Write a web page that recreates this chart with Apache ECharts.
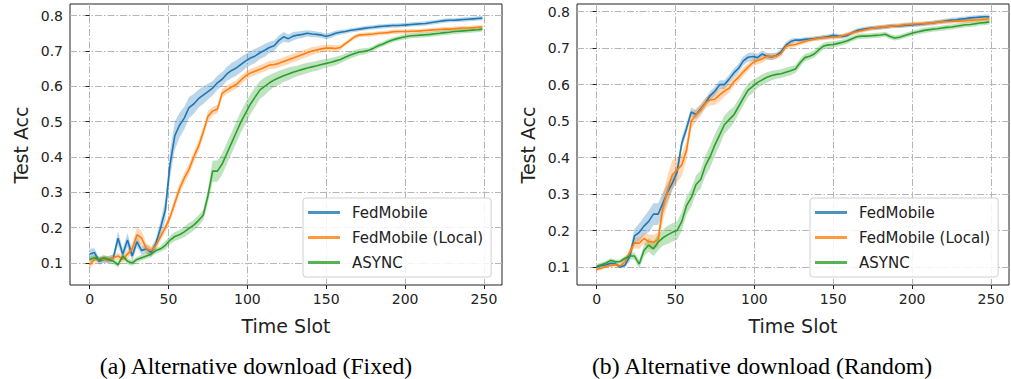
<!DOCTYPE html>
<html><head><meta charset="utf-8">
<script src="https://cdn.jsdelivr.net/npm/echarts@6/dist/echarts.min.js"></script>
<style>html,body{margin:0;padding:0;background:#fff}#c{width:1011px;height:379px}</style>
</head><body><div id="c"></div>
<script>
// ---- data ----
const slots = [0,3,6,9,12,15,18,21,24,27,30,33,36,39,42,45,48,51,54,57,60,63,66,69,72,75,78,81,84,87,90,93,96,99,102,105,108,111,114,117,120,123,126,129,132,135,138,141,144,147,150,153,156,159,162,165,168,171,174,177,180,183,186,189,192,195,198,201,204,207,210,213,216,219,222,225,228,231,234,237,240,243,246,249];
const seriesNames = ['FedMobile', 'FedMobile (Local)', 'ASYNC'];
const xTicks = [0, 50, 100, 150, 200, 250];
const yTicks = [0.1, 0.2, 0.3, 0.4, 0.5, 0.6, 0.7, 0.8];
const captions = ['(a) Alternative download (Fixed)', '(b) Alternative download (Random)'];

// (a) Fixed
const fixedFedMobile = [0.125,0.13,0.105,0.11,0.11,0.115,0.17,0.125,0.165,0.12,
 0.16,0.135,0.14,0.13,0.155,0.2,0.25,0.38,0.46,0.49,
 0.51,0.54,0.55,0.565,0.575,0.585,0.595,0.61,0.62,0.635,
 0.645,0.652,0.662,0.672,0.68,0.686,0.695,0.702,0.71,0.715,
 0.73,0.74,0.735,0.742,0.745,0.747,0.75,0.748,0.747,0.745,
 0.741,0.745,0.75,0.753,0.755,0.758,0.76,0.762,0.764,0.766,
 0.767,0.769,0.77,0.771,0.772,0.772,0.773,0.774,0.775,0.776,
 0.777,0.778,0.78,0.782,0.784,0.786,0.787,0.787,0.788,0.789,
 0.79,0.791,0.792,0.793];
const fixedLocal = [0.095,0.11,0.11,0.11,0.11,0.115,0.12,0.11,0.125,0.14,
 0.18,0.17,0.14,0.135,0.15,0.175,0.2,0.23,0.27,0.31,
 0.34,0.365,0.4,0.43,0.47,0.515,0.53,0.535,0.58,0.59,
 0.598,0.605,0.618,0.63,0.638,0.643,0.648,0.654,0.66,0.662,
 0.665,0.67,0.675,0.68,0.685,0.69,0.695,0.7,0.703,0.706,
 0.708,0.708,0.707,0.71,0.72,0.73,0.74,0.745,0.746,0.747,
 0.748,0.75,0.751,0.752,0.754,0.755,0.755,0.755,0.756,0.756,
 0.757,0.758,0.759,0.76,0.761,0.762,0.762,0.763,0.764,0.765,
 0.765,0.766,0.767,0.768];
const fixedAsync = [0.11,0.115,0.11,0.115,0.11,0.105,0.095,0.12,0.105,0.1,
 0.11,0.115,0.12,0.125,0.135,0.14,0.15,0.165,0.175,0.18,
 0.188,0.198,0.207,0.22,0.235,0.29,0.36,0.36,0.38,0.41,
 0.44,0.47,0.5,0.525,0.55,0.57,0.59,0.6,0.61,0.618,
 0.624,0.63,0.635,0.64,0.644,0.648,0.652,0.655,0.658,0.662,
 0.665,0.668,0.672,0.676,0.682,0.688,0.693,0.697,0.699,0.702,
 0.708,0.715,0.72,0.726,0.731,0.735,0.738,0.741,0.743,0.744,
 0.745,0.746,0.747,0.749,0.75,0.752,0.753,0.755,0.756,0.757,
 0.758,0.759,0.76,0.762];
// half-width of the shaded band, in thousandths of accuracy
const fixedFedMobileBand = [15,12,10,10,10,10,20,15,20,15, 15,12,12,12,15,20,30,38,40,35,
 32,30,28,25,25,22,20,20,20,20, 22,22,22,20,20,20,18,18,16,15,
 14,14,12,12,10,10,9,9,8,8, 8,8,7,7,6,6,6,6,6,6,
 6,6,6,6,6,6,6,6,6,6, 6,6,6,6,6,6,6,6,6,6, 6,6,6,6];
const fixedLocalBand = [12,10,8,8,8,8,10,10,12,15, 20,20,15,12,12,12,12,12,15,15,
 15,15,15,15,15,15,12,12,12,12, 12,12,12,12,12,12,12,12,12,12,
 12,12,12,12,12,12,11,11,10,10, 10,10,9,8,6,6,6,6,6,6,
 6,6,6,6,6,6,6,6,6,6, 6,6,6,6,6,6,6,6,6,6, 6,6,6,6];
const fixedAsyncBand = [8,8,8,8,8,8,8,8,8,8, 8,8,8,8,8,8,12,12,13,13,
 15,15,15,15,15,20,30,30,30,30, 30,30,30,30,28,28,25,25,22,20,
 20,18,18,16,15,15,15,14,14,13, 12,12,12,11,10,10,10,9,9,7,
 7,7,7,7,7,7,7,7,7,7, 7,7,7,7,7,7,7,7,7,7, 7,7,7,7];

// (b) Random
const randomFedMobile = [0.1,0.104,0.106,0.11,0.108,0.1,0.105,0.13,0.185,0.195,
 0.212,0.225,0.245,0.245,0.275,0.305,0.33,0.36,0.44,0.48,
 0.525,0.518,0.533,0.55,0.57,0.582,0.6,0.6,0.615,0.632,
 0.645,0.665,0.675,0.677,0.674,0.684,0.678,0.676,0.68,0.69,
 0.708,0.718,0.722,0.722,0.724,0.725,0.726,0.728,0.73,0.732,
 0.735,0.733,0.732,0.735,0.742,0.748,0.751,0.753,0.755,0.756,
 0.757,0.758,0.76,0.761,0.761,0.762,0.763,0.764,0.765,0.766,
 0.768,0.769,0.771,0.773,0.775,0.777,0.778,0.78,0.781,0.783,
 0.784,0.785,0.786,0.786];
const randomLocal = [0.093,0.097,0.102,0.104,0.106,0.103,0.115,0.14,0.166,0.165,
 0.178,0.17,0.168,0.175,0.262,0.31,0.353,0.366,0.38,0.42,
 0.5,0.517,0.53,0.55,0.558,0.56,0.572,0.582,0.59,0.608,
 0.62,0.635,0.648,0.66,0.666,0.67,0.678,0.677,0.678,0.685,
 0.705,0.708,0.71,0.714,0.718,0.722,0.725,0.727,0.728,0.729,
 0.73,0.731,0.734,0.738,0.742,0.745,0.748,0.751,0.754,0.756,
 0.757,0.759,0.76,0.761,0.762,0.764,0.765,0.766,0.767,0.767,
 0.768,0.769,0.771,0.772,0.773,0.773,0.774,0.774,0.775,0.776,
 0.777,0.778,0.779,0.78];
const randomAsync = [0.102,0.106,0.111,0.118,0.114,0.115,0.124,0.13,0.13,0.108,
 0.145,0.16,0.15,0.168,0.18,0.188,0.195,0.2,0.225,0.268,
 0.29,0.326,0.34,0.378,0.403,0.435,0.462,0.49,0.504,0.517,
 0.54,0.563,0.585,0.595,0.606,0.613,0.62,0.625,0.628,0.63,
 0.634,0.638,0.643,0.66,0.674,0.678,0.684,0.696,0.706,0.709,
 0.71,0.713,0.716,0.72,0.726,0.731,0.733,0.733,0.734,0.735,
 0.736,0.738,0.732,0.728,0.73,0.734,0.738,0.742,0.745,0.748,
 0.75,0.752,0.753,0.755,0.757,0.758,0.76,0.762,0.764,0.765,
 0.767,0.769,0.77,0.772];
const randomFedMobileBand = [4,4,4,4,4,4,6,15,20,25, 25,30,30,30,30,25,20,20,15,15,
 12,12,12,12,12,12,12,12,12,12, 12,12,12,12,10,10,9,9,8,8,
 8,8,6,6,6,6,6,6,6,6, 6,6,6,6,6,6,6,6,6,6,
 6,6,6,6,6,6,6,6,6,6, 6,6,6,6,6,6,6,6,6,6, 6,6,6,6];
const randomLocalBand = [5,5,5,5,5,5,8,12,15,15, 15,20,20,20,35,40,40,35,30,25,
 20,18,16,15,15,16,18,15,12,12, 12,12,10,10,10,10,9,9,8,8,
 8,8,6,6,6,6,6,6,6,6, 6,6,6,6,6,6,6,6,6,6,
 6,6,6,6,6,6,6,6,6,6, 6,6,6,6,6,6,6,6,6,6, 6,6,6,6];
const randomAsyncBand = [6,6,6,6,6,6,6,8,10,12, 15,18,20,22,22,25,25,25,25,25,
 25,25,25,28,30,30,28,25,25,22, 20,20,18,18,15,15,14,13,12,12,
 12,12,11,11,10,10,10,10,9,9, 8,8,8,8,7,7,7,7,7,7,
 7,7,7,7,7,7,7,7,7,7, 7,7,7,7,7,7,7,7,7,7, 7,7,7,7];

// ---- styling ----
const colors = ['#1f77b4', '#ff7f0e', '#2ca02c'];
const bandColors = ['rgba(31,119,180,0.3)', 'rgba(255,127,14,0.3)', 'rgba(44,160,44,0.3)'];
const panels = [
  {means: [fixedFedMobile, fixedLocal, fixedAsync], bands: [fixedFedMobileBand, fixedLocalBand, fixedAsyncBand],
   left: 70, yMin: 0.0377, yMax: 0.833},
  {means: [randomFedMobile, randomLocal, randomAsync], bands: [randomFedMobileBand, randomLocalBand, randomAsyncBand],
   left: 577, yMin: 0.0506, yMax: 0.821}
];
const TXT = '#222';
const FONT = '"DejaVu Sans", sans-serif';

const grids = [], xAxes = [], yAxes = [], series = [], legends = [], graphics = [];
panels.forEach((p, g) => {
  grids.push({left: p.left, top: 4, width: 432, height: 281, show: true,
    borderColor: '#222', borderWidth: 1, backgroundColor: 'transparent', containLabel: false});
  xAxes.push({type: 'value', gridIndex: g, min: -12.45, max: 261.45,
    axisLine: {show: false},
    axisTick: {show: true, customValues: xTicks, length: 4, lineStyle: {color: TXT}},
    axisLabel: {customValues: xTicks, fontSize: 14, color: TXT, margin: 7, fontFamily: FONT},
    splitLine: {show: true, lineStyle: {color: '#b5b5b5', width: 1, type: [7, 2, 1.5, 2]}}});
  yAxes.push({type: 'value', gridIndex: g, min: p.yMin, max: p.yMax,
    axisLine: {show: false},
    axisTick: {show: true, customValues: yTicks, length: 4, lineStyle: {color: TXT}},
    axisLabel: {customValues: yTicks, fontSize: 14, color: TXT, margin: 7, fontFamily: FONT,
      formatter: v => v.toFixed(1)},
    splitLine: {show: true, lineStyle: {color: '#b5b5b5', width: 1, type: [7, 2, 1.5, 2]}}});
  // bands
  p.means.forEach((m, k) => {
    const half = p.bands[k];
    const data = slots.map((s, i) => [s, m[i] - half[i] / 1000, m[i] + half[i] / 1000]);
    series.push({
      type: 'custom', name: seriesNames[k] + ' band', xAxisIndex: g, yAxisIndex: g,
      silent: true, z: 1, data: data, encode: {x: 0, y: [1, 2]},
      renderItem: function (params, api) {
        if (params.dataIndex !== 0) return null;
        const up = [], lo = [];
        for (let i = 0; i < data.length; i++) {
          up.push(api.coord([api.value(0, i), api.value(2, i)]));
          lo.push(api.coord([api.value(0, i), api.value(1, i)]));
        }
        return {type: 'polygon', shape: {points: up.concat(lo.reverse())},
          style: {fill: bandColors[k], stroke: null}};
      }
    });
  });
  // mean lines
  p.means.forEach((m, k) => {
    series.push({
      type: 'line', name: seriesNames[k], xAxisIndex: g, yAxisIndex: g, z: 3,
      data: slots.map((s, i) => [s, m[i]]),
      showSymbol: false, symbol: 'none', color: colors[k],
      itemStyle: {color: colors[k]},
      lineStyle: {color: colors[k], width: 1.6}
    });
  });
  legends.push({
    data: seriesNames.map(n => ({name: n, itemStyle: {opacity: 0.8}})),
    orient: 'vertical', left: p.left + 233, top: 198,
    padding: [7, 8, 7, 5], itemWidth: 32, itemHeight: 3, itemGap: 10, icon: 'rect',
    backgroundColor: 'rgba(255,255,255,0.85)', borderColor: '#d0d0d0', borderWidth: 1, borderRadius: 3,
    textStyle: {fontSize: 15, color: TXT, fontFamily: FONT, padding: [0, 0, 0, 7]},
    selectedMode: false
  });
  const cx = p.left + 216;
  graphics.push({type: 'text', x: p.left - 49, y: 145, rotation: Math.PI / 2, silent: true,
    style: {text: 'Test Acc', fontSize: 19, fontFamily: FONT, fill: TXT, align: 'center', verticalAlign: 'middle'}});
  graphics.push({type: 'text', x: cx, y: 326, silent: true,
    style: {text: 'Time Slot', fontSize: 19, fontFamily: FONT, fill: TXT, align: 'center', verticalAlign: 'middle'}});
  graphics.push({type: 'text', x: g === 0 ? 256 : 762, y: 366, silent: true,
    style: {text: captions[g], fontSize: 23.7, fontFamily: '"Liberation Serif", "Times New Roman", serif', fill: '#000', align: 'center', verticalAlign: 'middle'}});
});

const chart = echarts.init(document.getElementById('c'), null, {renderer: 'svg'});
chart.setOption({
  animation: false,
  grid: grids, xAxis: xAxes, yAxis: yAxes, series: series, legend: legends, graphic: graphics
});
</script></body></html>
